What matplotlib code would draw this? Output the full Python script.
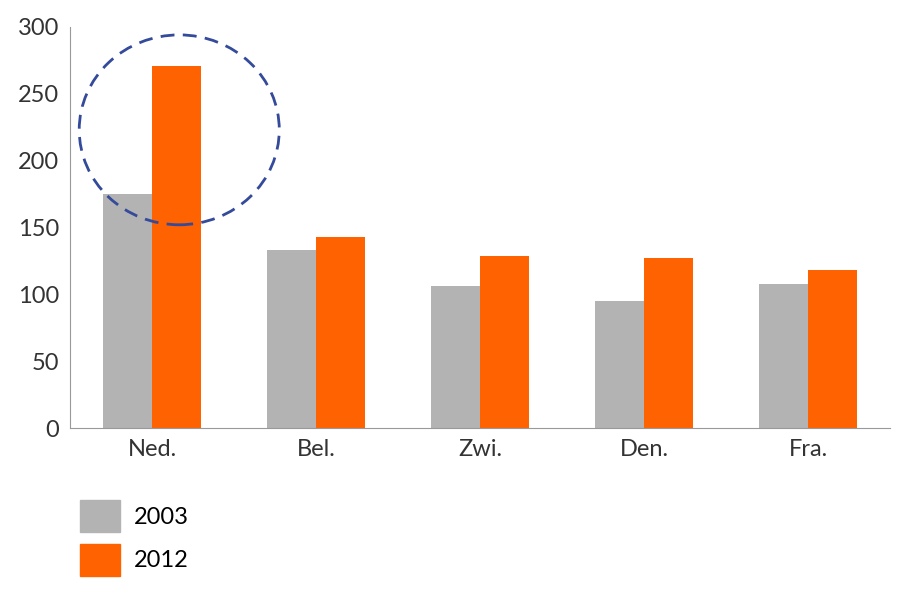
import matplotlib
matplotlib.use("Agg")
import matplotlib.pyplot as plt
import numpy as np
from matplotlib.patches import Ellipse, Patch

categories = ["Ned.", "Bel.", "Zwi.", "Den.", "Fra."]
vals_2003 = [175, 133, 106, 95, 108]
vals_2012 = [271, 143, 129, 127, 118]
series_labels = ["2003", "2012"]

plt.rcParams['font.family'] = ['Lato', 'DejaVu Sans']
fig = plt.figure(figsize=(9, 5.97), dpi=100)
ax = fig.add_axes([0.078, 0.283, 0.911, 0.672])
x = np.arange(len(categories))
w = 0.3
ax.bar(x - w/2, vals_2003, w, color="#b3b3b3")
ax.bar(x + w/2, vals_2012, w, color="#ff6200")
ax.set_xlim(-0.5, len(categories) - 0.5)
ax.set_ylim(0, 300)
ax.set_yticks(range(0, 301, 50))
ax.set_xticks(x)
ax.set_xticklabels(categories)
ax.tick_params(labelsize=17, colors="#333333", length=0, pad=8)
for s in ["top", "right"]:
    ax.spines[s].set_visible(False)
for s in ["left", "bottom"]:
    ax.spines[s].set_color("#999999")
ax.add_patch(Ellipse((0.165, 223), 1.22, 142, fill=False, edgecolor="#344a9a",
                     linestyle=(0, (5, 3)), linewidth=2, clip_on=False))
handles = [Patch(color="#b3b3b3"), Patch(color="#ff6200")]
fig.legend(handles, series_labels, loc="lower left", bbox_to_anchor=(0.065, 0.0),
           frameon=False, fontsize=17, handlelength=1.7, handleheight=1.7,
           labelspacing=0.5, handletextpad=0.6)
fig.savefig("out.png")
